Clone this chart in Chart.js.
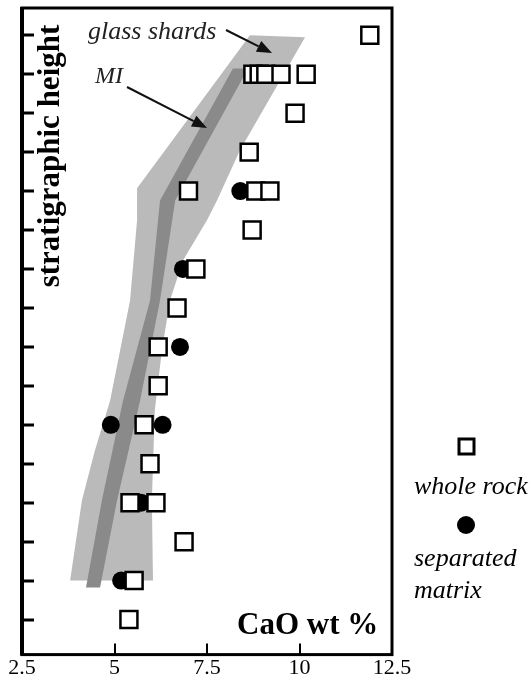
<!DOCTYPE html>
<html>
<head>
<meta charset="utf-8">
<script src="https://cdn.jsdelivr.net/npm/chart.js@4.4.0/dist/chart.umd.min.js"></script>
<style>
html, body { margin: 0; padding: 0; background: #fff; }
</style>
</head>
<body>
<canvas id="chart" width="532" height="681"></canvas>
<script>
// x axis (CaO wt %) and stratigraphic levels
const xTicks = [2.5, 5, 7.5, 10, 12.5];
const levelTicks = [1, 2, 3, 4, 5, 6, 7, 8, 9, 10, 11, 12, 13, 14, 15, 16];

// whole rock samples
const wholeRockCaO   = [11.9, 8.74, 8.91, 9.09, 9.5, 10.18, 9.88, 8.64, 7.0, 8.82, 9.2, 8.72, 7.2, 6.69, 6.18, 6.18, 5.8, 5.96, 5.42, 6.12, 6.88, 5.53, 5.39];
const wholeRockLevel = [16, 15, 15, 15, 15, 15, 14, 13, 12, 12, 12, 11, 10, 9, 8, 7, 6, 5, 4, 4, 3, 2, 1];

// separated matrix samples
const matrixCaO   = [8.4, 6.85, 6.77, 4.9, 6.3, 5.72, 5.18];
const matrixLevel = [12, 10, 8, 6, 6, 4, 2];

// glass shards envelope (outline, clockwise)
const glassCaO   = [8.66, 10.15, 8.39, 7.77, 7.5, 6.85, 6.5, 6.28, 6.09, 6.01, 6.04, 3.80, 4.12, 4.47, 4.88, 5.42, 5.61, 5.61];
const glassLevel = [16.0, 15.95, 13.05, 11.76, 11.25, 10.22, 9.19, 7.91, 6.37, 4.06, 2.0, 2.0, 4.06, 5.34, 6.62, 9.19, 11.25, 12.07];

// melt inclusion (MI) band (outline)
const miCaO   = [8.20, 8.61, 6.64, 6.23, 5.69, 5.07, 4.61, 4.23, 4.66, 5.23, 5.96, 6.23];
const miLevel = [15.15, 15.15, 11.76, 9.19, 6.62, 4.06, 1.82, 1.82, 4.06, 6.62, 9.19, 11.76];

const toPoints = (xs, ys) => xs.map((x, i) => ({ x: x, y: ys[i] }));

const serif = "'Liberation Serif', 'Times New Roman', serif";

// frame, inward ticks, labels, arrows and legend
const decorations = {
    id: 'decorations',
    afterDraw(chart) {
        const ctx = chart.ctx;
        const area = chart.chartArea;
        const xs = chart.scales.x;
        const ys = chart.scales.y;
        ctx.save();
        ctx.strokeStyle = '#000';
        ctx.fillStyle = '#000';

        // y ticks, pointing inward
        ctx.lineWidth = 3;
        levelTicks.forEach(v => {
            const py = Math.round(ys.getPixelForValue(v));
            ctx.beginPath();
            ctx.moveTo(area.left, py);
            ctx.lineTo(area.left + 12, py);
            ctx.stroke();
        });
        // x ticks, pointing inward
        ctx.lineWidth = 2;
        xTicks.slice(1, -1).forEach(v => {
            const px = Math.round(xs.getPixelForValue(v));
            ctx.beginPath();
            ctx.moveTo(px, area.bottom);
            ctx.lineTo(px, area.bottom - 11);
            ctx.stroke();
        });

        // frame
        ctx.lineWidth = 3;
        ctx.strokeRect(area.left, area.top, area.right - area.left, area.bottom - area.top);
        ctx.lineWidth = 4;
        ctx.beginPath();
        ctx.moveTo(area.left, area.top - 1);
        ctx.lineTo(area.left, area.bottom + 1);
        ctx.stroke();

        // axis titles
        ctx.font = 'bold 31px ' + serif;
        ctx.textAlign = 'left';
        ctx.textBaseline = 'alphabetic';
        ctx.fillText('CaO wt %', 237, 634);
        ctx.save();
        ctx.translate(59, 156);
        ctx.rotate(-Math.PI / 2);
        ctx.textAlign = 'center';
        ctx.fillText('stratigraphic height', 0, 0);
        ctx.restore();

        // annotations
        ctx.font = 'italic 26px ' + serif;
        ctx.fillStyle = '#222';
        ctx.fillText('glass shards', 88, 39);
        ctx.font = 'italic 24px ' + serif;
        ctx.fillText('MI', 95, 83);
        arrow(ctx, 226, 30, 272, 53);
        arrow(ctx, 127, 87, 207, 128);

        // legend
        ctx.lineWidth = 3;
        ctx.fillStyle = '#fff';
        ctx.fillRect(459, 439, 15, 15);
        ctx.strokeRect(459, 439, 15, 15);
        ctx.fillStyle = '#000';
        ctx.beginPath();
        ctx.arc(466, 525, 9, 0, Math.PI * 2);
        ctx.fill();
        ctx.font = 'italic 26px ' + serif;
        ctx.textAlign = 'left';
        ctx.fillText('whole rock', 414, 494);
        ctx.fillText('separated', 414, 566);
        ctx.fillText('matrix', 414, 598);
        ctx.restore();
    }
};

function arrow(ctx, x1, y1, x2, y2) {
    const ang = Math.atan2(y2 - y1, x2 - x1);
    const len = 15, wid = 6;
    const bx = x2 - len * Math.cos(ang), by = y2 - len * Math.sin(ang);
    ctx.save();
    ctx.strokeStyle = '#111';
    ctx.fillStyle = '#111';
    ctx.lineWidth = 2;
    ctx.beginPath();
    ctx.moveTo(x1, y1);
    ctx.lineTo(bx, by);
    ctx.stroke();
    ctx.beginPath();
    ctx.moveTo(x2, y2);
    ctx.lineTo(bx + wid * Math.sin(ang), by - wid * Math.cos(ang));
    ctx.lineTo(bx - wid * Math.sin(ang), by + wid * Math.cos(ang));
    ctx.closePath();
    ctx.fill();
    ctx.restore();
}

new Chart(document.getElementById('chart'), {
    type: 'scatter',
    data: {
        datasets: [
            {
                label: 'whole rock',
                data: toPoints(wholeRockCaO, wholeRockLevel),
                pointStyle: 'rect',
                pointRadius: 12,
                borderWidth: 2.5,
                borderColor: '#000',
                backgroundColor: '#fff'
            },
            {
                label: 'separated matrix',
                data: toPoints(matrixCaO, matrixLevel),
                pointStyle: 'circle',
                pointRadius: 9,
                borderWidth: 0,
                backgroundColor: '#000'
            },
            {
                type: 'line',
                label: 'MI',
                data: toPoints(miCaO, miLevel),
                showLine: true,
                fill: 'shape',
                backgroundColor: 'rgb(138,138,138)',
                borderWidth: 0,
                pointRadius: 0,
                tension: 0
            },
            {
                type: 'line',
                label: 'glass shards',
                data: toPoints(glassCaO, glassLevel),
                showLine: true,
                fill: 'shape',
                backgroundColor: 'rgb(186,186,186)',
                borderWidth: 0,
                pointRadius: 0,
                tension: 0
            }
        ]
    },
    options: {
        responsive: false,
        animation: false,
        events: [],
        layout: { autoPadding: false, padding: { left: 22, right: 140, top: 8, bottom: 0 } },
        plugins: {
            legend: { display: false },
            tooltip: { enabled: false }
        },
        scales: {
            x: {
                type: 'linear',
                min: 2.5,
                max: 12.5,
                afterBuildTicks: scale => { scale.ticks = xTicks.map(v => ({ value: v })); },
                grid: { display: false, drawTicks: false },
                border: { display: false },
                ticks: {
                    padding: 0,
                    color: '#000',
                    maxRotation: 0,
                    autoSkip: false,
                    font: { family: serif, size: 22 }
                }
            },
            y: {
                type: 'linear',
                display: false,
                min: 0.1,
                max: 16.7
            }
        }
    },
    plugins: [decorations]
});
</script>
</body>
</html>
